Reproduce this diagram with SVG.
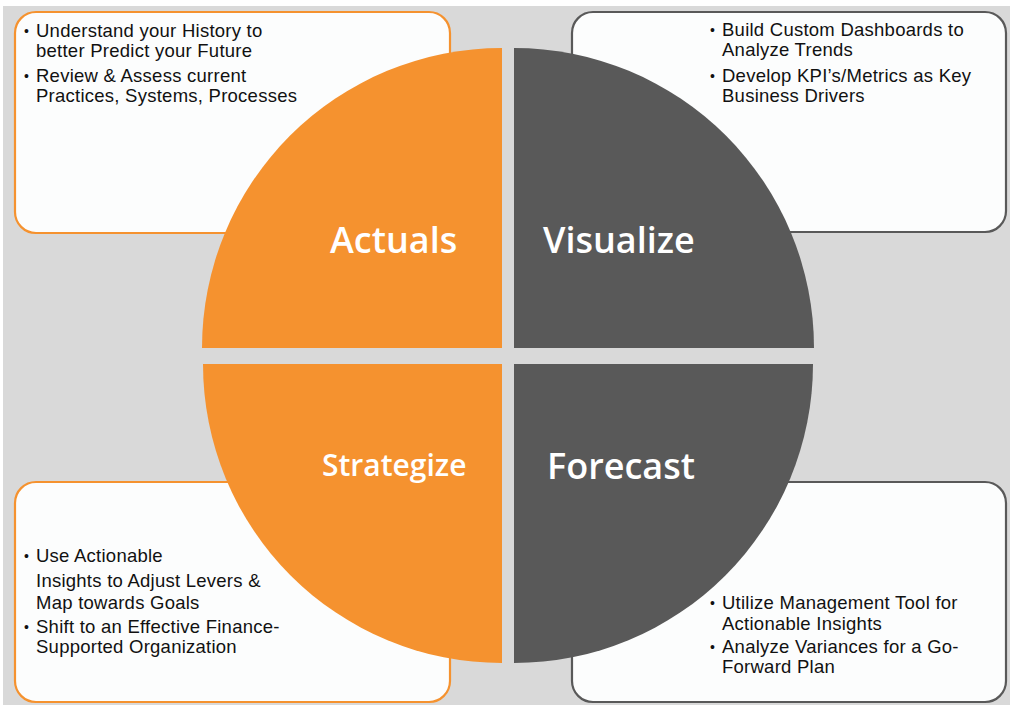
<svg xmlns="http://www.w3.org/2000/svg" width="1010" height="705" viewBox="0 0 1010 705">
  <style>
    .box { fill: #fcfdfd; stroke-width: 2.2; }
    .box-o { stroke: #f5922f; }
    .box-g { stroke: #595959; }
    .q-o { fill: #f5922f; }
    .q-g { fill: #595959; }
    .item { font-family: "Liberation Sans", Arial, sans-serif; font-size: 18.5px; letter-spacing: 0.25px; fill: #111111; }
    .dot { font-family: "Liberation Sans", Arial, sans-serif; font-size: 14px; fill: #111111; }
    .title { font-family: "Open Sans", "Liberation Sans", sans-serif; font-size: 36px; font-weight: 600; fill: #ffffff; }
  </style>

  <!-- page -->
  <rect x="0" y="0" width="1010" height="705" fill="#ffffff"/>
  <rect x="3" y="6" width="1007" height="699" fill="#d9d9d9"/>

  <!-- corner boxes -->
  <g id="box-actuals">
    <rect class="box box-o" x="15" y="12" width="435" height="221" rx="21"/>
    <text class="dot" x="24" y="36">•</text>
    <text class="item" x="36" y="37">Understand your History to</text>
    <text class="item" x="36" y="57">better Predict your Future</text>
    <text class="dot" x="24" y="81">•</text>
    <text class="item" x="36" y="82">Review &amp; Assess current</text>
    <text class="item" x="36" y="102">Practices, Systems, Processes</text>
  </g>

  <g id="box-visualize">
    <rect class="box box-g" x="572" y="12" width="434" height="220" rx="21"/>
    <text class="dot" x="710" y="35">•</text>
    <text class="item" x="722" y="36">Build Custom Dashboards to</text>
    <text class="item" x="722" y="56">Analyze Trends</text>
    <text class="dot" x="710" y="81">•</text>
    <text class="item" x="722" y="82">Develop KPI’s/Metrics as Key</text>
    <text class="item" x="722" y="102">Business Drivers</text>
  </g>

  <g id="box-strategize">
    <rect class="box box-o" x="15" y="482" width="435" height="220" rx="21"/>
    <text class="dot" x="24" y="561">•</text>
    <text class="item" x="36" y="562">Use Actionable</text>
    <text class="item" x="36" y="587">Insights to Adjust Levers &amp;</text>
    <text class="item" x="36" y="609">Map towards Goals</text>
    <text class="dot" x="24" y="632">•</text>
    <text class="item" x="36" y="633">Shift to an Effective Finance-</text>
    <text class="item" x="36" y="653">Supported Organization</text>
  </g>

  <g id="box-forecast">
    <rect class="box box-g" x="572" y="482" width="434" height="220" rx="21"/>
    <text class="dot" x="710" y="608">•</text>
    <text class="item" x="722" y="609">Utilize Management Tool for</text>
    <text class="item" x="722" y="630">Actionable Insights</text>
    <text class="dot" x="710" y="652">•</text>
    <text class="item" x="722" y="653">Analyze Variances for a Go-</text>
    <text class="item" x="722" y="673">Forward Plan</text>
  </g>

  <!-- quadrant wheel -->
  <g id="q-actuals">
    <path class="q-o" d="M502,348 L202,348 A300,300 0 0 1 502,48 Z"/>
    <text class="title" x="330" y="253">Actuals</text>
  </g>
  <g id="q-visualize">
    <path class="q-g" d="M514,348 L514,48 A300,300 0 0 1 814,348 Z"/>
    <text class="title" x="543" y="253">Visualize</text>
  </g>
  <g id="q-strategize">
    <path class="q-o" d="M502,364 L203,364 A299,299 0 0 0 502,663 Z"/>
    <text class="title" x="322" y="476" style="font-size:30px">Strategize</text>
  </g>
  <g id="q-forecast">
    <path class="q-g" d="M514,364 L813,364 A299,299 0 0 1 514,663 Z"/>
    <text class="title" x="547" y="479">Forecast</text>
  </g>

  <g id="connectors"/>
</svg>
